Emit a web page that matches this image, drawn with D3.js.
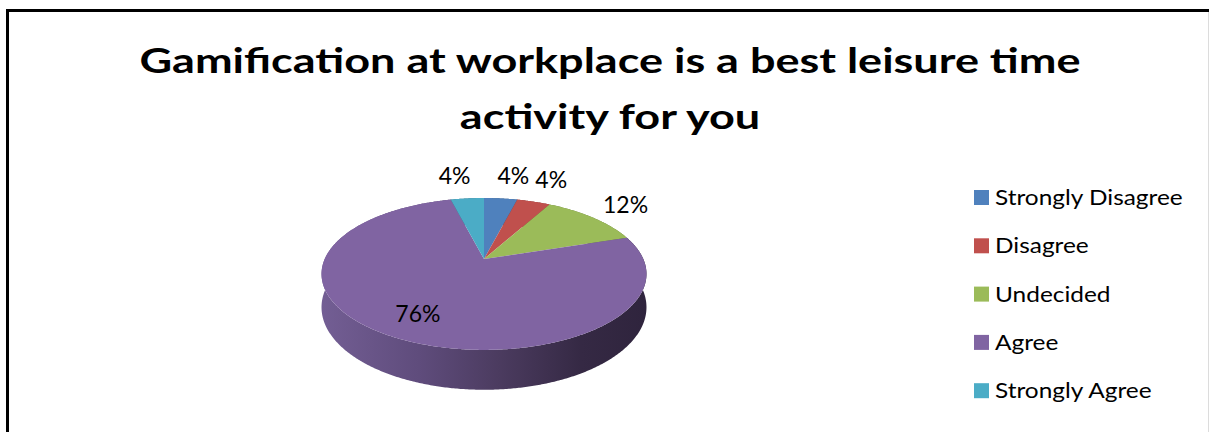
<!DOCTYPE html>
<html>
<head>
<meta charset="utf-8">
<script src="https://cdn.jsdelivr.net/npm/d3@7"></script>
<style>
  html, body { margin: 0; padding: 0; background: #fff; }
  svg { display: block; }
</style>
</head>
<body>
<svg id="chart" width="1209" height="432"></svg>
<script>
// Survey responses (percent of respondents)
const categories = ["Strongly Disagree", "Disagree", "Undecided", "Agree", "Strongly Agree"];
const values = [4, 4, 12, 76, 4];
const sliceColors = ["#4F81BD", "#C0504D", "#9BBB59", "#8064A2", "#4BACC6"];
const titleLines = ["Gamification at workplace is a best leisure time", "activity for you"];

const W = 1209, H = 432;
const svg = d3.select("#chart");
const FONT = "Lato, 'Open Sans', sans-serif";

// chart frame (left and top edges in view)
svg.append("path")
  .attr("d", "M7.5,445V10.5H1220")
  .attr("fill", "none").attr("stroke", "#000").attr("stroke-width", 3);
svg.append("line")
  .attr("x1", 1208.5).attr("x2", 1208.5).attr("y1", 12).attr("y2", H)
  .attr("stroke", "#dcdcdc").attr("stroke-width", 1);

// title (wide bold face, stretched horizontally)
svg.append("g")
  .attr("transform", "translate(610,0) scale(1.305,1)")
  .selectAll("text").data(titleLines).join("text")
  .attr("x", 0)
  .attr("y", (d, i) => 73 + i * 56.5)
  .attr("text-anchor", "middle")
  .attr("font-family", FONT).attr("font-weight", 700).attr("font-size", 34.5)
  .attr("fill", "#000")
  .text(d => d);

// --- 3D pie with perspective ---
const cx = 484, cy = 259;      // projected centre of the top face
const a = 159.3, b = 73;       // horizontal / depth radii
const k = 0.197;               // perspective strength
const thick = 32;              // wall height

// angle: clockwise from the back (12 o'clock), r: radius fraction, depth: 0 top .. 1 bottom
function proj(angle, r, depth) {
  const u = r * Math.sin(angle), v = -r * Math.cos(angle);
  const den = 1 - k * v;
  return [cx + a * u / den, cy + (b * v + thick * depth) / den];
}

const color = d3.scaleOrdinal(categories, sliceColors);
const arcs = d3.pie().sort(null).value(d => d)(values)
  .map((p, i) => ({ ...p, cat: categories[i] }));

const line = d3.line();
function arcPts(s, e, r, depth) {
  const n = Math.max(2, Math.ceil((e - s) / (Math.PI / 360)));
  return d3.range(n + 1).map(j => proj(s + (e - s) * j / n, r, depth));
}

// wall shading
const defs = svg.append("defs");
const grad = defs.append("linearGradient").attr("id", "wallShade")
  .attr("gradientUnits", "userSpaceOnUse")
  .attr("x1", cx - a * 1.02).attr("x2", cx + a * 1.02).attr("y1", 0).attr("y2", 0);
[[0, "#735e94"], [0.3, "#5f4c7c"], [0.55, "#4b3b5f"], [0.8, "#352944"], [1, "#2f243d"]]
  .forEach(([o, c]) => grad.append("stop").attr("offset", o).attr("stop-color", c));

const pie = svg.append("g");

// outer walls first
pie.selectAll("path.wall").data(arcs).join("path")
  .attr("class", "wall")
  .attr("d", d => {
    const top = arcPts(d.startAngle, d.endAngle, 1, 0);
    const bot = arcPts(d.startAngle, d.endAngle, 1, 1).reverse();
    return line(top.concat(bot)) + "Z";
  })
  .attr("fill", d => d.cat === "Agree" ? "url(#wallShade)" : d3.color(color(d.cat)).darker(1.2));

// top faces
pie.selectAll("path.top").data(arcs).join("path")
  .attr("class", "top")
  .attr("d", d => line([proj(0, 0, 0)].concat(arcPts(d.startAngle, d.endAngle, 1, 0))) + "Z")
  .attr("fill", d => color(d.cat));

// data labels: large slices inside, small ones just outside the rim
const LABEL_SIZE = 23;
pie.selectAll("text.lbl").data(arcs).join("text")
  .attr("class", "lbl")
  .attr("font-family", FONT).attr("font-size", LABEL_SIZE).attr("fill", "#000")
  .attr("text-anchor", "middle")
  .text(d => d.value + "%")
  .each(function (d) {
    const mid = (d.startAngle + d.endAngle) / 2;
    const t = d3.select(this);
    if (d.value / d3.sum(values) > 0.25) {
      const [x, y] = proj(mid, 0.75, 0);
      t.attr("x", x).attr("y", y + 8);
    } else {
      const [x, y] = proj(mid, 1, 0);
      const dx = Math.sin(mid), dy = -Math.cos(mid);
      const w = this.getComputedTextLength();
      const s = dx < 0 ? -1 : 1;
      const out = -3.25 + 20.5 * (Math.abs(dx) - 0.125);
      t.attr("x", x + s * (w / 2 + out))
       .attr("y", y + 8 * dy - 6 + (Math.abs(dx) > 0.6 ? 8 * Math.abs(dx) : 0));
    }
  });

// legend
const legend = svg.append("g").selectAll("g").data(categories).join("g")
  .attr("transform", (d, i) => `translate(974,${197.5 + i * 48.3})`);
legend.append("rect")
  .attr("x", 0).attr("y", -7.5).attr("width", 15).attr("height", 15)
  .attr("fill", d => color(d));
legend.append("text")
  .attr("transform", "translate(21,7.5) scale(1.11,1)")
  .attr("font-family", FONT).attr("font-size", 22).attr("fill", "#000")
  .text(d => d);
</script>
</body>
</html>
